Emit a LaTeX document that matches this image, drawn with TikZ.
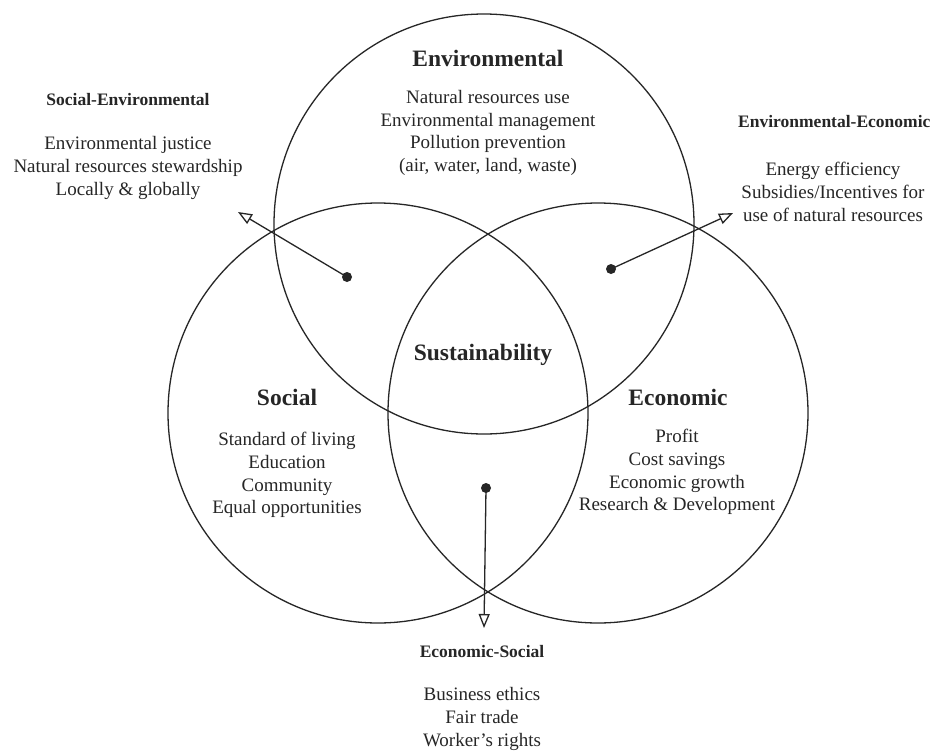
\documentclass[tikz,border=0pt]{standalone}
\usepackage{fontspec}
\setmainfont{Liberation Serif}
\usetikzlibrary{arrows.meta}
\definecolor{ink}{RGB}{38,38,38}
\begin{document}
\begin{tikzpicture}[x=1pt,y=-1pt,
  ring/.style={draw=ink, line width=1.3pt, circle, minimum size=420pt, inner sep=0pt},
  title/.style={font=\fontsize{23.5}{28}\selectfont\bfseries, text=ink, inner sep=0pt},
  subtitle/.style={font=\fontsize{17.5}{21}\selectfont\bfseries, text=ink, inner sep=0pt},
  body/.style={font=\fontsize{19}{22.8}\selectfont, text=ink, align=center, inner sep=0pt},
  dotnode/.style={circle, fill=ink, inner sep=0pt, minimum size=10pt},
  link/.style={draw=ink, line width=1.3pt, -{Triangle[open, length=14pt, width=11pt, fill=white]}}]
\useasboundingbox (0,0) rectangle (940,753);
\fill[white] (0,0) rectangle (940,753);

% circles
\node[ring] (env) at (484,224) {};
\node[ring] (soc) at (378,413) {};
\node[ring] (eco) at (598,413) {};

% central labels
\node[title] (envT) at (488,58) {Environmental};
\node[body] (envB) at (488,133) {Natural resources use\\Environmental management\\Pollution prevention\\(air, water, land, waste)};
\node[title] (sus) at (483,355) {Sustainability};
\node[title] (socT) at (287,397) {Social};
\node[body] (socB) at (287,475) {Standard of living\\Education\\Community\\Equal opportunities};
\node[title] (ecoT) at (678,397) {Economic};
\node[body] (ecoB) at (677,472) {Profit\\Cost savings\\Economic growth\\Research \& Development};

% outer labels
\node[subtitle] (seT) at (128,100) {Social-Environmental};
\node[body] (seB) at (128,168) {Environmental justice\\Natural resources stewardship\\Locally \& globally};
\node[subtitle, anchor=west] (eeT) at (738,122) {Environmental-Economic};
\node[body] (eeB) at (833,192) {Energy efficiency\\Subsidies/Incentives for\\use of natural resources};
\node[subtitle] (esT) at (482,652) {Economic-Social};
\node[body] (esB) at (482,719) {Business ethics\\Fair trade\\Worker’s rights};

% connectors
\node[dotnode] (dSE) at (347,277) {};
\coordinate (tSE) at (238,212);
\node[dotnode] (dEE) at (611,269) {};
\coordinate (tEE) at (733,213);
\node[dotnode] (dES) at (486,488) {};
\coordinate (tES) at (484,628);
\draw[link] (dSE.center) -- (tSE);
\draw[link] (dEE.center) -- (tEE);
\draw[link] (dES.center) -- (tES);
\end{tikzpicture}
\end{document}
